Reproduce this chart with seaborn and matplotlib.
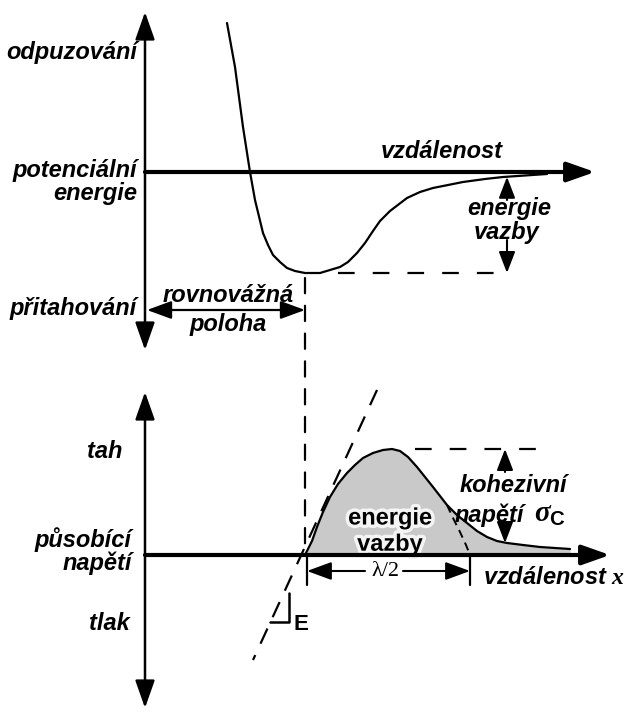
import numpy as np
import pandas as pd
import matplotlib
matplotlib.use("Agg")
import matplotlib.pyplot as plt
import matplotlib.patheffects as pe
from matplotlib.patches import ConnectionPatch
import seaborn as sns

# ---- data -------------------------------------------------------------
# potential energy U(r) against interatomic distance r (arbitrary units)
distance_u = [2.05, 2.25, 2.45, 2.625, 2.75, 2.95, 3.075, 3.2, 3.375, 3.55,
              3.75, 4.0, 4.375, 4.875, 5.075, 5.3, 5.5, 5.7, 5.875, 6.125,
              6.55, 6.875, 7.2, 7.95, 8.5, 8.95, 10.05]
energy_u = [3.725, 2.625, 1.125, 0.0, -0.7, -1.525, -1.825, -2.075, -2.25, -2.4,
            -2.475, -2.525, -2.525, -2.375, -2.25, -2.025, -1.775, -1.475, -1.225, -0.975,
            -0.65, -0.5, -0.4, -0.25, -0.175, -0.125, -0.05]

# applied stress sigma(x) against separation x
distance_s = [4.0, 4.175, 4.3, 4.45, 4.625, 4.825, 5.05, 5.25, 5.45, 5.7,
              5.95, 6.175, 6.375, 6.575, 6.8, 7.0, 7.2, 7.375, 7.55, 7.8,
              8.05, 8.3, 8.55, 8.8, 9.05, 9.45, 9.875, 10.25, 10.625]
stress_s = [0.0, 0.35, 0.7, 1.075, 1.45, 1.775, 2.05, 2.25, 2.425, 2.55,
            2.625, 2.65, 2.6, 2.45, 2.2, 1.95, 1.7, 1.475, 1.25, 1.0,
            0.8, 0.6, 0.45, 0.35, 0.3, 0.25, 0.2, 0.175, 0.15]

# sinusoidal approximation beyond the inflection (dashed)
distance_sine = [7.55, 7.7, 7.875, 8.025, 8.125]
stress_sine = [1.25, 0.925, 0.575, 0.25, 0.0]

# tangent at the origin of the stress curve (slope = E)
distance_tan = [5.8, 2.7]
stress_tan = [4.125, -2.625]

r0 = 4.0            # equilibrium separation
u_min = -2.525      # bond energy level
sigma_c = 2.65      # cohesive stress
half_lambda = 8.125  # end of lambda/2

top_labels = ["odpuzování", "potenciální\nenergie", "přitahování"]
bottom_labels = ["tah", "působící\nnapětí", "tlak"]

# ---- style ------------------------------------------------------------
sns.set_theme(style="white")
plt.rcParams["font.family"] = ["Liberation Sans", "DejaVu Sans"]
plt.rcParams["lines.scale_dashes"] = False
plt.rcParams["mathtext.fontset"] = "custom"
plt.rcParams["mathtext.it"] = "Liberation Serif:italic:bold"
plt.rcParams["mathtext.rm"] = "Liberation Serif"
plt.rcParams["mathtext.sf"] = "Liberation Sans:bold"

FS = 17
lab = dict(fontsize=FS, fontweight="bold", fontstyle="italic", color="black")

fig = plt.figure(figsize=(6.25, 7.12), dpi=100)
ax_u = fig.add_axes([0, 342 / 712, 1, 370 / 712])
ax_s = fig.add_axes([0, 0, 1, 342 / 712])
ax_u.set_xlim(-3.625, 12.0)
ax_u.set_ylim(-4.95, 4.3)
ax_s.set_xlim(-3.625, 12.0)
ax_s.set_ylim(-3.925, 4.625)
for ax in (ax_u, ax_s):
    ax.axis("off")


def arrow(ax, start, end, style="-|>", lw=1.8, hl=17, hw=6.0):
    ax.annotate("", xy=end, xytext=start,
                arrowprops=dict(arrowstyle=f"{style},head_length={hl},head_width={hw}",
                                lw=lw, color="black", shrinkA=0, shrinkB=0,
                                mutation_scale=1))


DASH_V = (0, (11, 9))
DASH_H = (0, (12, 13))

# ---- potential energy panel ---------------------------------------------
arrow(ax_u, (0, -4.45), (0, 4.0), style="<|-|>", lw=1.8, hl=17, hw=6.0)
arrow(ax_u, (0, 0), (11.25, 0), lw=3.0, hl=17, hw=6.0)

df_u = pd.DataFrame({"r": distance_u, "U": energy_u})
sns.lineplot(data=df_u, x="r", y="U", ax=ax_u, color="black", lw=1.6,
             sort=False, estimator=None)

ax_u.plot([4.825, 9.05], [u_min, u_min], color="black", lw=1.6, ls=DASH_H)
arrow(ax_u, (9.05, -0.7), (9.05, -0.12), lw=1.5, hl=13, hw=5.0)
arrow(ax_u, (9.05, -1.7), (9.05, u_min), lw=1.5, hl=13, hw=5.0)
ax_u.text(9.1, -0.9, "energie", ha="center", va="center", **lab)
ax_u.text(9.05, -1.525, "vazby", ha="center", va="center", **lab)

arrow(ax_u, (r0 / 2, -3.45), (0.05, -3.45), lw=1.6, hl=15, hw=5.5)
arrow(ax_u, (r0 / 2, -3.45), (r0, -3.45), lw=1.6, hl=15, hw=5.5)
ax_u.text(2.09, -3.075, "rovnovážná", ha="center", va="center", **lab)
ax_u.text(2.09, -3.825, "poloha", ha="center", va="center", **lab)

ax_u.text(-0.2, 2.975, top_labels[0], ha="right", va="center", **lab)
ax_u.text(-0.2, -0.24, top_labels[1], ha="right", va="center",
          linespacing=1.0, **lab)
ax_u.text(-0.2, -3.425, top_labels[2], ha="right", va="center", **lab)
ax_u.text(7.425, 0.5, "vzdálenost", ha="center", va="center", **lab)

# equilibrium separation carried down into the stress panel
con = ConnectionPatch(xyA=(r0, u_min - 0.125), coordsA=ax_u.transData,
                      xyB=(r0, 0), coordsB=ax_s.transData,
                      color="black", lw=1.6, ls=DASH_V)
fig.add_artist(con)

# ---- stress panel -------------------------------------------------------
arrow(ax_s, (0, -3.825), (0, 4.075), style="<|-|>", lw=1.8, hl=17, hw=6.0)

ax_s.fill_between(distance_s, stress_s, 0, color="#c9c9c9", lw=0, zorder=1)
df_s = pd.DataFrame({"x": distance_s, "sigma": stress_s})
sns.lineplot(data=df_s, x="x", y="sigma", ax=ax_s, color="black", lw=1.6,
             sort=False, estimator=None, zorder=3)
arrow(ax_s, (0, 0), (11.625, 0), lw=3.0, hl=17, hw=6.0)

ax_s.plot(distance_sine, stress_sine, color="black", lw=1.4, ls=(0, (6, 4)), zorder=3)
ax_s.plot(distance_tan, stress_tan, color="black", lw=1.6, ls=(0, (12, 9)), zorder=3)

# slope triangle for E
y_step = -1.675
x_step0 = float(np.interp(y_step, stress_tan[::-1], distance_tan[::-1]))
ax_s.plot([x_step0, 3.6, 3.6], [y_step, y_step, -0.95], color="black", lw=1.8)
ax_s.text(3.72, y_step - 0.05, "E", ha="left", va="center", fontsize=16,
          fontweight="bold", color="black")

ax_s.plot([6.75, 9.95], [sigma_c, sigma_c], color="black", lw=1.6, ls=DASH_H)
arrow(ax_s, (9.0, 2.075), (9.0, sigma_c), lw=1.5, hl=13, hw=5.0)
arrow(ax_s, (9.0, 0.875), (9.0, 0.3), lw=1.5, hl=13, hw=5.0)
ax_s.text(9.2, 1.75, "kohezivní", ha="center", va="center", **lab)
ax_s.text(7.75, 1.0, "napětí", ha="left", va="center", **lab)
ax_s.text(9.72, 1.02, r"$\sigma_{\mathsf{C}}$", ha="left", va="center",
          fontsize=21, color="black")

halo = [pe.withStroke(linewidth=5, foreground="#f4f4f4")]
ax_s.text(6.125, 0.925, "energie", ha="center", va="center", fontsize=FS,
          fontweight="bold", color="black", path_effects=halo, zorder=4)
ax_s.text(6.125, 0.27, "vazby", ha="center", va="center", fontsize=FS,
          fontweight="bold", color="black", path_effects=halo, zorder=2)

# lambda/2 dimension
for xv in (r0 + 0.05, half_lambda):
    ax_s.plot([xv, xv], [0, -0.75], color="black", lw=1.6)
arrow(ax_s, (5.5, -0.4), (r0 + 0.05, -0.4), lw=1.5, hl=15, hw=5.5)
arrow(ax_s, (6.45, -0.4), (half_lambda, -0.4), lw=1.5, hl=15, hw=5.5)
ax_s.text(6.0, -0.4, "λ/2", ha="center", va="center", fontsize=16,
          family="Liberation Serif", color="black")
ax_s.text(8.45, -0.575, r"vzdálenost $x$", ha="left", va="center", **lab)

ax_s.text(-0.575, 2.575, bottom_labels[0], ha="right", va="center", **lab)
ax_s.text(-0.325, 0.1, bottom_labels[1], ha="right", va="center",
          linespacing=1.0, **lab)
ax_s.text(-0.375, -1.7, bottom_labels[2], ha="right", va="center", **lab)

fig.savefig("out.png", dpi=100, facecolor="white")
